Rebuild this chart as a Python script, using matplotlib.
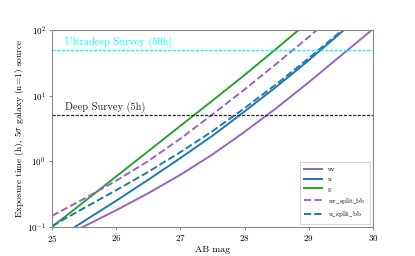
import matplotlib
matplotlib.use("Agg")
import matplotlib.pyplot as plt
import numpy as np

plt.rcParams['font.family'] = 'serif'
plt.rcParams['font.serif'] = ['cmr10']
plt.rcParams['mathtext.fontset'] = 'cm'
plt.rcParams['axes.formatter.use_mathtext'] = True

mag = [25.0, 25.5, 26.0, 26.5, 27.0, 27.5, 28.0, 28.5, 29.0, 29.5, 30.0]
# log10 exposure time (h)
log_uv = [-1.23, -0.99, -0.745, -0.485, -0.205, 0.105, 0.45, 0.815, 1.205, 1.61, 2.015]
log_u = [-1.225, -0.91, -0.60, -0.28, 0.05, 0.39, 0.76, 1.14, 1.54, 1.96, 2.385]
log_g = [-1.0, -0.615, -0.23, 0.155, 0.54, 0.925, 1.315, 1.72, 2.13, 2.55, 2.97]
log_uv_split = [-0.83, -0.57, -0.295, 0.005, 0.345, 0.715, 1.095, 1.49, 1.895, 2.31, 2.73]
log_u_split = [-0.985, -0.71, -0.44, -0.16, 0.14, 0.46, 0.81, 1.18, 1.57, 1.98, 2.40]

labels = ['uv', 'u', 'g', r'$\mathrm{uv\_split\_bb}$', r'$\mathrm{u\_split\_bb}$']

survey_levels = [50, 5]
survey_labels = ["Ultradeep Survey (50h)", "Deep Survey (5h)"]
survey_colors = ["cyan", "#222222"]

fig = plt.figure(figsize=(4.15, 2.56), dpi=100)
ax = fig.add_axes([0.1253, 0.1133, 0.7735, 0.7695])

def t(v):
    return 10 ** np.asarray(v)

lw = 1.4
ax.plot(mag, t(log_uv), color='tab:purple', lw=lw, label=labels[0])
ax.plot(mag, t(log_u), color='tab:blue', lw=lw, label=labels[1])
ax.plot(mag, t(log_g), color='tab:green', lw=lw, label=labels[2])
ax.plot(mag, t(log_uv_split), color='tab:purple', lw=lw, ls='--', label=labels[3])
ax.plot(mag, t(log_u_split), color='tab:blue', lw=lw, ls='--', label=labels[4])

for lvl, lab, c in zip(survey_levels, survey_labels, survey_colors):
    ax.axhline(lvl, color=c, lw=0.9, ls=(0, (2.5, 1.2)))
    ax.text(25.2, lvl * 1.08, lab, color=c, fontsize=7.5, va='bottom', ha='left')

ax.set_yscale('log')
ax.set_xlim(25, 30)
ax.set_ylim(0.1, 100)
ax.minorticks_off()
ax.set_xticks([25, 26, 27, 28, 29, 30])
ax.set_xlabel('AB mag', fontsize=7, labelpad=1)
ax.set_ylabel(r'Exposure time (h), 5$\sigma$ galaxy (n=1) source', fontsize=6.8, labelpad=0.5)
ax.tick_params(labelsize=6.5, length=2.5, width=0.6, color='#777777', pad=2)
for s in ax.spines.values():
    s.set_color('#888888')
    s.set_linewidth(0.8)

leg = ax.legend(loc='lower right', fontsize=5, handlelength=2.6, labelspacing=0.55,
                borderpad=0.6, framealpha=1, fancybox=False, edgecolor='#cccccc')
leg.get_frame().set_linewidth(0.6)

fig.savefig('out.png', dpi=100)
